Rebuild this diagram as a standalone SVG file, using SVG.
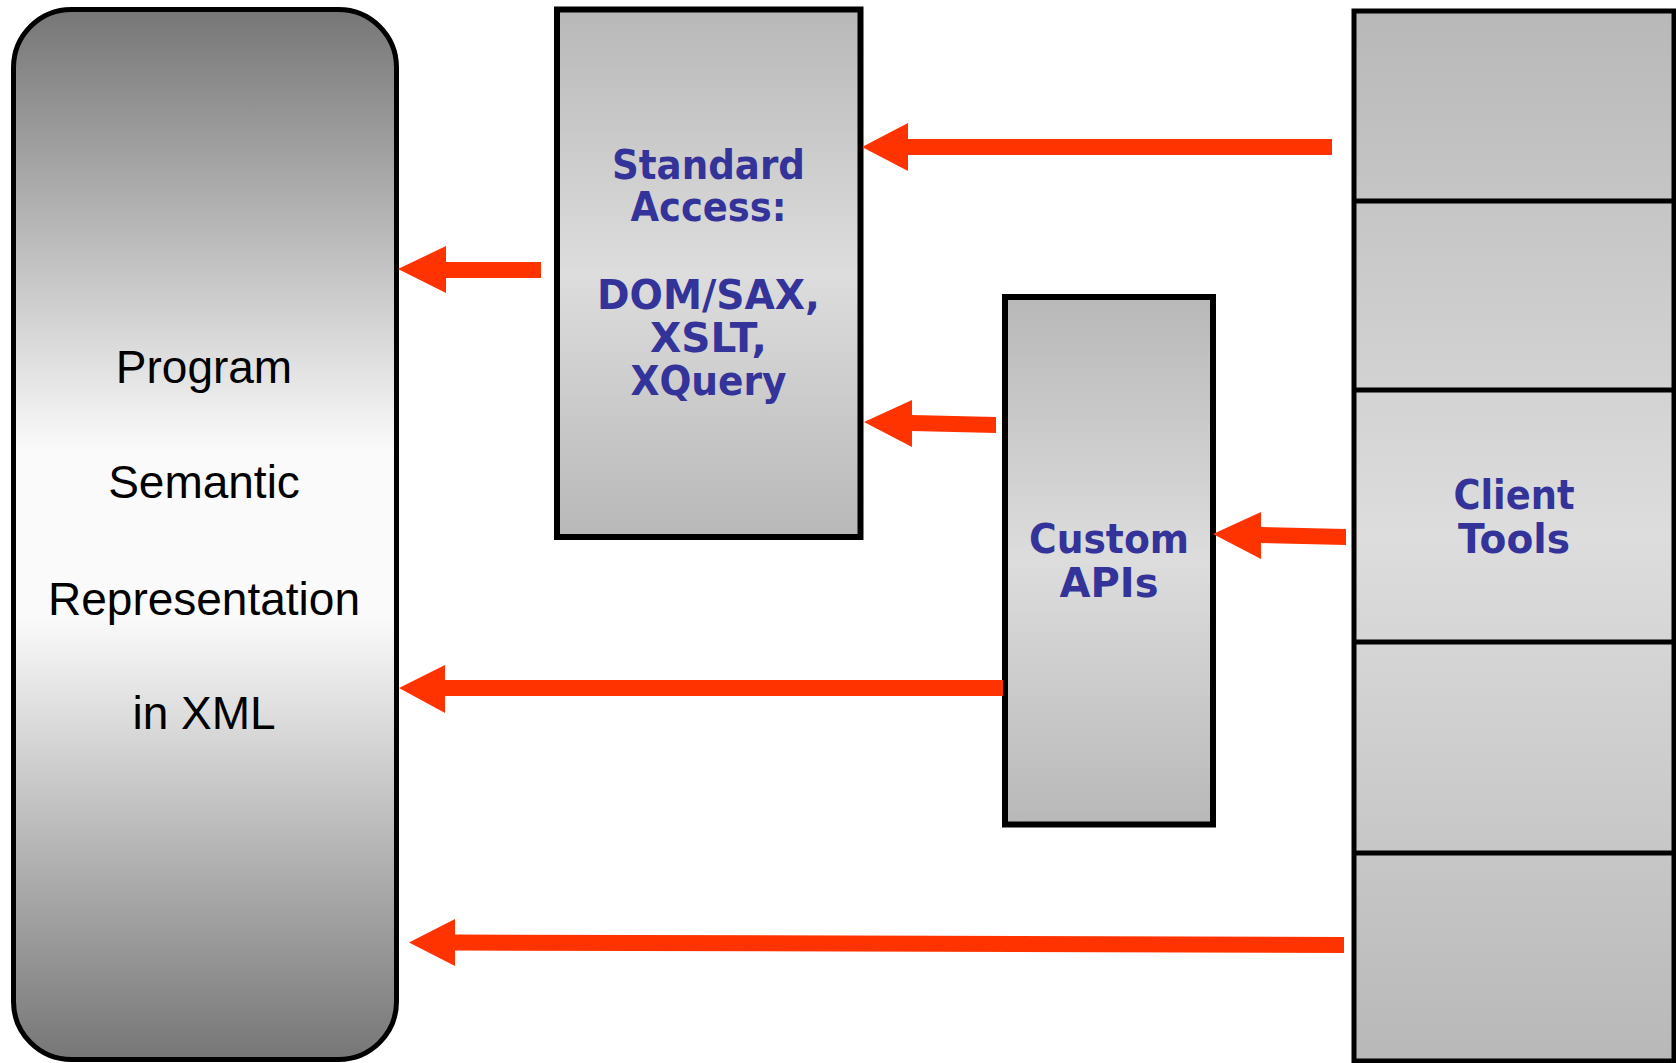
<svg xmlns="http://www.w3.org/2000/svg" width="1676" height="1063" viewBox="0 0 1676 1063">
  <defs>
    <linearGradient id="gradProgram" x1="0" y1="0" x2="0" y2="1">
      <stop offset="0" stop-color="#767676"/>
      <stop offset="0.42" stop-color="#fafafa"/>
      <stop offset="0.58" stop-color="#fafafa"/>
      <stop offset="1" stop-color="#767676"/>
    </linearGradient>
    <linearGradient id="gradBox" x1="0" y1="0" x2="0" y2="1">
      <stop offset="0" stop-color="#b8b8b8"/>
      <stop offset="0.5" stop-color="#dddddd"/>
      <stop offset="1" stop-color="#b8b8b8"/>
    </linearGradient>
    <style>
      .box { fill: url(#gradBox); stroke: #000; stroke-width: 6; }
      .label { font-family: "DejaVu Sans", Verdana, sans-serif; font-weight: bold; font-size: 40px; fill: #333399; text-anchor: middle; }
      .plain { font-family: "Liberation Sans", Arial, sans-serif; font-size: 46px; fill: #000; text-anchor: middle; }
      .arrow { fill: #ff3300; }
      .divider { stroke: #000; stroke-width: 5; }
    </style>
  </defs>

  <rect width="1676" height="1063" fill="#fff"/>

  <!-- XML representation store -->
  <g id="program">
    <rect x="13.5" y="9.5" width="383" height="1050" rx="58" ry="58" fill="url(#gradProgram)" stroke="#000" stroke-width="5"/>
    <text class="plain" x="204" y="383">Program</text>
    <text class="plain" x="204" y="498">Semantic</text>
    <text class="plain" x="204" y="615">Representation</text>
    <text class="plain" x="204" y="729">in XML</text>
  </g>

  <!-- Standard access layer -->
  <g id="standard-access">
    <rect class="box" x="557" y="9.5" width="303.5" height="527.5"/>
    <text class="label" x="708.5" y="179" textLength="193" lengthAdjust="spacingAndGlyphs">Standard</text>
    <text class="label" x="708.5" y="221" textLength="156" lengthAdjust="spacingAndGlyphs">Access:</text>
    <text class="label" x="708.5" y="309" textLength="223" lengthAdjust="spacingAndGlyphs">DOM/SAX,</text>
    <text class="label" x="708.5" y="352" textLength="117" lengthAdjust="spacingAndGlyphs">XSLT,</text>
    <text class="label" x="708.5" y="395" textLength="156" lengthAdjust="spacingAndGlyphs">XQuery</text>
  </g>

  <!-- Custom API layer -->
  <g id="custom-apis">
    <rect class="box" x="1005" y="297" width="208" height="527.5"/>
    <text class="label" x="1109" y="553" textLength="160" lengthAdjust="spacingAndGlyphs">Custom</text>
    <text class="label" x="1109" y="597" textLength="99" lengthAdjust="spacingAndGlyphs">APIs</text>
  </g>

  <!-- Client tools column -->
  <g id="client-tools">
    <rect x="1354" y="11" width="320" height="1050" fill="url(#gradBox)" stroke="#000" stroke-width="5"/>
    <line class="divider" x1="1354" y1="201" x2="1674" y2="201"/>
    <line class="divider" x1="1354" y1="390" x2="1674" y2="390"/>
    <line class="divider" x1="1354" y1="642" x2="1674" y2="642"/>
    <line class="divider" x1="1354" y1="853" x2="1674" y2="853"/>
    <text class="label" x="1514" y="509" textLength="121" lengthAdjust="spacingAndGlyphs">Client</text>
    <text class="label" x="1514" y="553" textLength="112" lengthAdjust="spacingAndGlyphs">Tools</text>
  </g>

  <!-- Connectors: block arrows -->
  <g id="connectors">
    <!-- client tools to standard access -->
    <polygon class="arrow" points="862,147 908,123 908,139 1332,139 1332,155 908,155 908,171"/>
    <!-- standard access to program representation -->
    <polygon class="arrow" points="398,269 446,246 446,262 541,262 541,278 446,278 446,293"/>
    <!-- custom APIs to standard access -->
    <polygon class="arrow" points="864,422 912,400 912,415 996,417 996,433 912,431 912,447"/>
    <!-- client tools to custom APIs -->
    <polygon class="arrow" points="1213,534 1261,512 1261,527 1346,529 1346,545 1261,543 1261,559"/>
    <!-- custom APIs to program representation -->
    <polygon class="arrow" points="399,688 445,665 445,680 1003,680 1003,696 445,696 445,713"/>
    <!-- client tools to program representation -->
    <polygon class="arrow" points="409,942.5 455,919 455,934.5 1344,937 1344,953 455,950.5 455,966"/>
  </g>
</svg>
